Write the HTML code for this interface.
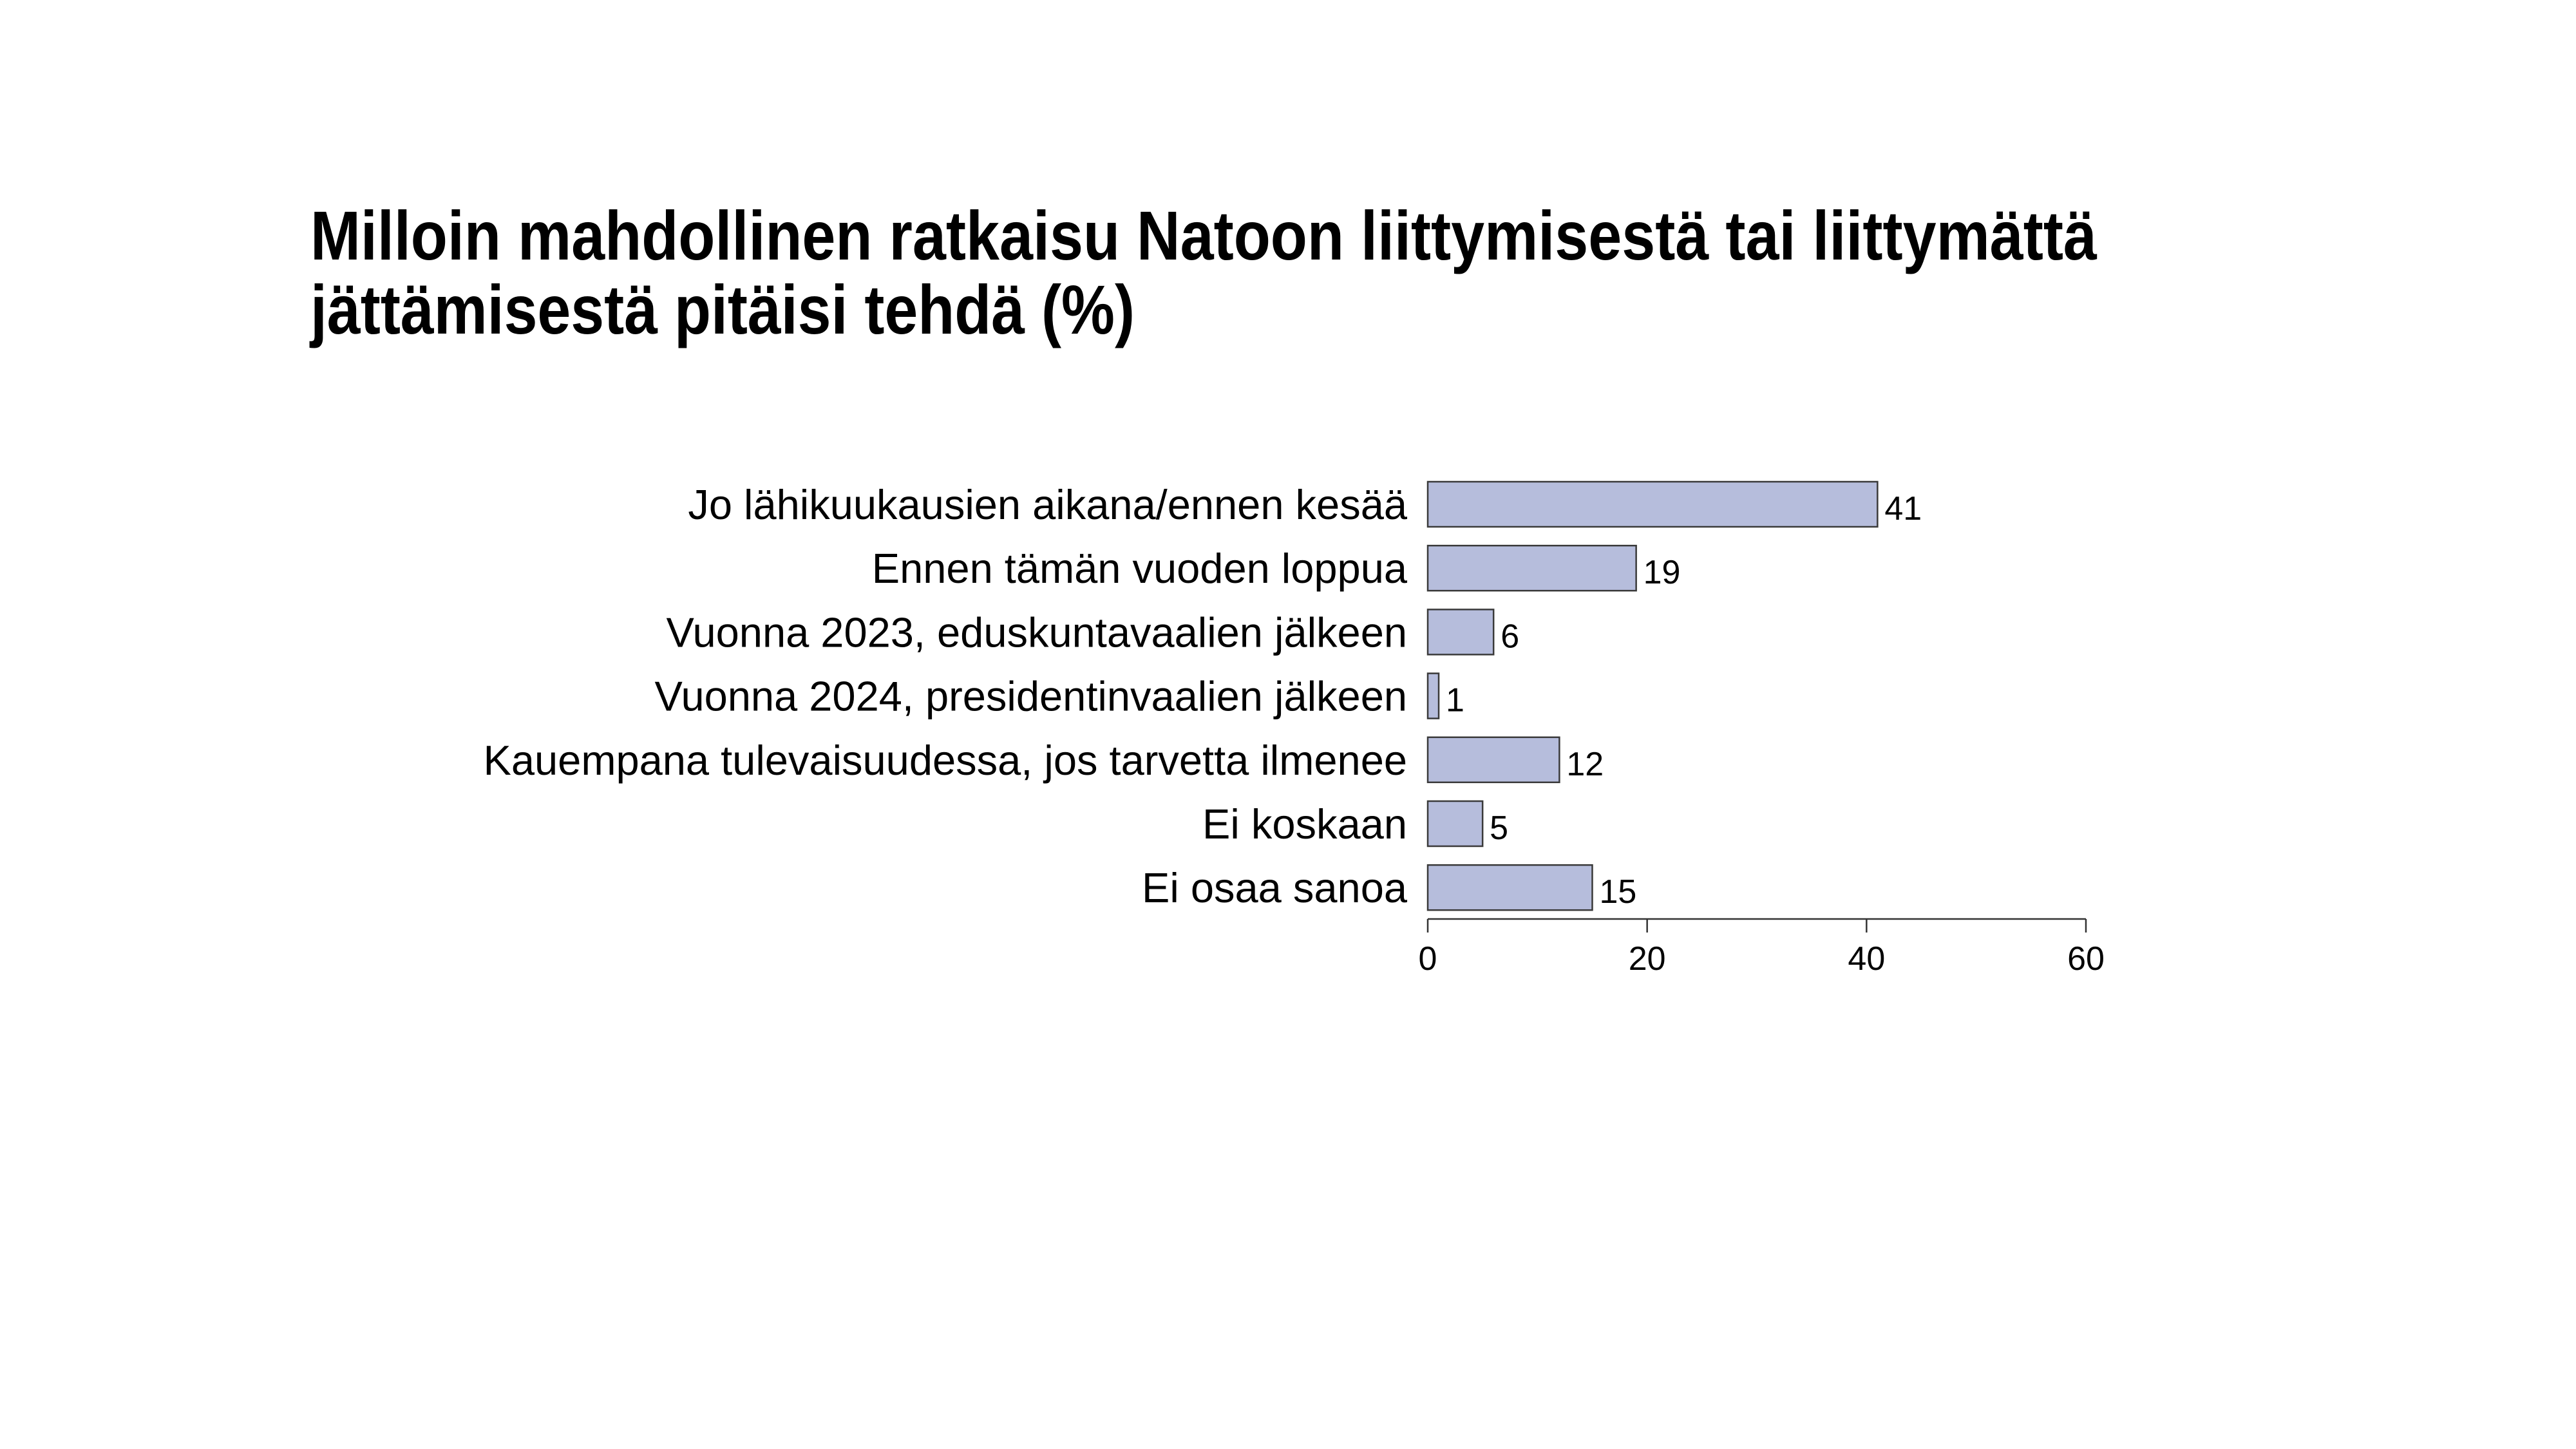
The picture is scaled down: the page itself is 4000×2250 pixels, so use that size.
<!DOCTYPE html>
<html><head><meta charset="utf-8"><style>
html,body{margin:0;padding:0;background:#fff;}
svg{display:block;}
</style></head><body>
<svg id="chart" width="4000" height="2250" viewBox="0 0 4000 2250" xmlns="http://www.w3.org/2000/svg">
<rect width="4000" height="2250" fill="#fff"/>
<g font-family="'Liberation Sans Narrow','Liberation Sans',sans-serif" font-weight="bold" font-size="108" fill="#000">
<text x="482" y="403" textLength="2774" lengthAdjust="spacingAndGlyphs">Milloin mahdollinen ratkaisu Natoon liittymisestä tai liittymättä</text>
<text x="482" y="518" textLength="1280" lengthAdjust="spacingAndGlyphs">jättämisestä pitäisi tehdä (%)</text>
</g>
<g id="bars"></g>
<g id="axis"></g>
</svg>
<script>
const categories = ["Jo lähikuukausien aikana/ennen kesää","Ennen tämän vuoden loppua","Vuonna 2023, eduskuntavaalien jälkeen","Vuonna 2024, presidentinvaalien jälkeen","Kauempana tulevaisuudessa, jos tarvetta ilmenee","Ei koskaan","Ei osaa sanoa"];
const values = [41,19,6,1,12,5,15];
const ticks = [0,20,40,60];
const tickLabels = ["0","20","40","60"];

const NS="http://www.w3.org/2000/svg";
const x0=2217, x1=3239, xmax=60;
function xs(v){return x0+(x1-x0)*v/xmax;}
const top0=748, pitch=99.2, bh=70;
function ys(i){return top0+i*pitch;}
const bars=document.getElementById('bars');
const axis=document.getElementById('axis');
function mk(tag,attrs,parent){const e=document.createElementNS(NS,tag);for(const k in attrs)e.setAttribute(k,attrs[k]);parent.appendChild(e);return e;}
categories.forEach((c,i)=>{
  const y=ys(i);
  const lab=mk('text',{x:2185,y:y+bh/2+23,'text-anchor':'end','font-family':"'Liberation Sans',Arial,sans-serif",'font-size':65,fill:'#000'},bars);
  
  
  lab.textContent=c;
  const r=mk('rect',{x:x0,y:y,width:xs(values[i])-x0,height:bh,fill:'#b6bddc',stroke:'#3a3a3a','stroke-width':2.5},bars);
  
  
  const v=mk('text',{x:xs(values[i])+11,y:y+bh/2+24,'font-family':"'Liberation Sans',Arial,sans-serif",'font-size':52,fill:'#000'},bars);
  
  
  v.textContent=String(values[i]);
});
const al=mk('line',{x1:x0,x2:x1,y1:1427,y2:1427,stroke:'#333','stroke-width':2.5},axis);


ticks.forEach((t,i)=>{
  const tl=mk('line',{x1:xs(t),x2:xs(t),y1:1427,y2:1448,stroke:'#333','stroke-width':2.5},axis);
  
  
  const tx=mk('text',{x:xs(t),y:1506,'text-anchor':'middle','font-family':"'Liberation Sans',Arial,sans-serif",'font-size':52,fill:'#000'},axis);
  
  
  tx.textContent=tickLabels[i];
});
</script>
</body></html>
